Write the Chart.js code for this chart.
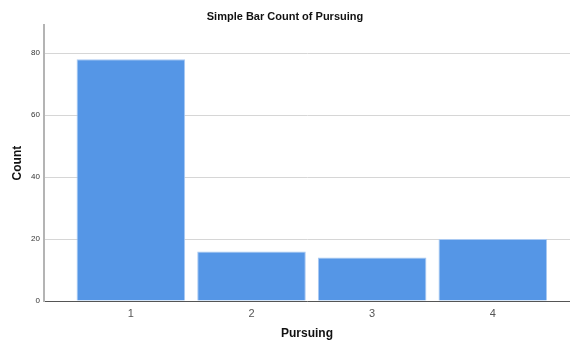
<!DOCTYPE html>
<html>
<head>
<meta charset="utf-8">
<script src="https://cdn.jsdelivr.net/npm/chart.js@4/dist/chart.umd.min.js"></script>
<style>
  html, body { margin: 0; padding: 0; background: #fff; }
  #wrap { width: 570px; height: 341px; }
</style>
</head>
<body>
<div id="wrap"><canvas id="barChart"></canvas></div>
<script>
// Simple bar count of Pursuing
const categories = [1, 2, 3, 4];
const counts = [78, 16, 14, 20];
const yTicks = [0, 20, 40, 60, 80];

const ctx = document.getElementById("barChart").getContext("2d");
new Chart(ctx, {
    type: "bar",
    data: {
        datasets: [
            {
                label: "Count",
                data: categories.map((c, i) => ({ x: c, y: counts[i] })),
                backgroundColor: "#5596e6",
                borderColor: "#a9c9f2",
                borderWidth: 1,
                categoryPercentage: 1,
                barPercentage: 0.9,
            },
        ],
    },
    options: {
        responsive: true,
        maintainAspectRatio: false,
        animation: false,
        layout: { padding: { left: 0, right: 0, top: 0, bottom: 0 } },
        plugins: {
            legend: { display: false },
            tooltip: { enabled: false },
            title: {
                display: true,
                text: "Simple Bar Count of Pursuing",
                color: "#111",
                font: { family: "Arial, Liberation Sans", size: 11, weight: "bold" },
                padding: { top: 10, bottom: 2 },
            },
        },
        scales: {
            x: {
                type: "linear",
                offset: false,
                min: 0.28,
                max: 4.64,
                afterFit: (s) => { s.height = 40; },
                afterBuildTicks: (s) => { s.ticks = categories.map((v) => ({ value: v })); },
                grid: { display: false, drawTicks: false, offset: false },
                border: { color: "#555", width: 1 },
                ticks: {
                    color: "#555",
                    padding: 6,
                    font: { family: "Arial, Liberation Sans", size: 11 },
                },
                title: {
                    display: true,
                    text: "Pursuing",
                    color: "#111",
                    font: { family: "Arial, Liberation Sans", size: 12, weight: "bold" },
                    padding: { top: 4, bottom: 0 },
                },
            },
            y: {
                min: 0,
                max: 89,
                afterFit: (s) => { s.width = 44; },
                afterBuildTicks: (s) => { s.ticks = yTicks.map((v) => ({ value: v })); },
                grid: { color: "#d6d6d6", lineWidth: 1, drawTicks: false },
                border: { color: "#b4b4b4", width: 2 },
                ticks: {
                    color: "#333",
                    padding: 4,
                    font: { family: "Arial, Liberation Sans", size: 8 },
                },
                title: {
                    display: true,
                    text: "Count",
                    color: "#111",
                    font: { family: "Arial, Liberation Sans", size: 12, weight: "bold" },
                    padding: { top: 10, bottom: 0 },
                },
            },
        },
    },
});
</script>
</body>
</html>
